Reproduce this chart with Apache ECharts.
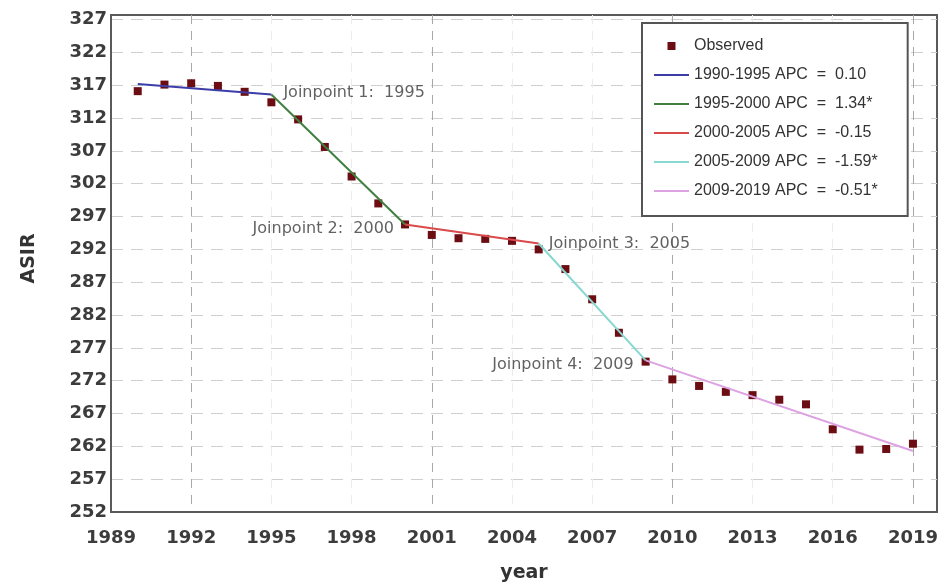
<!DOCTYPE html>
<html>
<head>
<meta charset="utf-8">
<script src="https://cdn.jsdelivr.net/npm/echarts@6/dist/echarts.min.js"></script>
<style>
html,body{margin:0;padding:0;background:#fff;}
#c{width:939px;height:585px;}
</style>
</head>
<body>
<div id="c"></div>
<script>
// ---- data ----
const years = [1990, 1991, 1992, 1993, 1994, 1995, 1996, 1997, 1998, 1999,
               2000, 2001, 2002, 2003, 2004, 2005, 2006, 2007, 2008, 2009,
               2010, 2011, 2012, 2013, 2014, 2015, 2016, 2017, 2018, 2019];
const observed = [316.1, 317.1, 317.3, 316.9, 316.0, 314.4, 311.8, 307.6, 303.1, 299.0,
                  295.8, 294.2, 293.7, 293.6, 293.3, 292.0, 289.0, 284.4, 279.3, 274.9,
                  272.2, 271.2, 270.3, 269.8, 269.1, 268.4, 264.6, 261.5, 261.6, 262.4];
// fitted joinpoint model breakpoints
const segYears = [1990, 1995, 2000, 2005, 2009, 2019];
const segValues = [317.2, 315.6, 295.8, 292.9, 275.1, 261.3];
const segNames = ['1990-1995 APC  =  0.10', '1995-2000 APC  =  1.34*', '2000-2005 APC  =  -0.15',
                  '2005-2009 APC  =  -1.59*', '2009-2019 APC  =  -0.51*'];
const jpLabels = ['Joinpoint 1:  1995', 'Joinpoint 2:  2000', 'Joinpoint 3:  2005', 'Joinpoint 4:  2009'];
const yTicks = [252, 257, 262, 267, 272, 277, 282, 287, 292, 297, 302, 307, 312, 317, 322, 327];
const xTicks = [1989, 1992, 1995, 1998, 2001, 2004, 2007, 2010, 2013, 2016, 2019];

// ---- styles ----
const segColors = ['#3d3daa', '#3f7f3f', '#d94a4a', '#86d8d0', '#dda2e2'];
const jpSide = ['right', 'left', 'right', 'left'];
const jpOffset = [[0, -2], [0, 4], [0, 0], [0, 5]];
const jpDist = [12, 11, 10, 12];

const chart = echarts.init(document.getElementById('c'), null, {renderer: 'canvas'});

const series = [];
series.push({
  name: 'Observed',
  type: 'line',
  data: years.map((y, i) => [y, observed[i]]),
  symbol: 'rect',
  symbolSize: 8,
  showSymbol: true,
  lineStyle: {width: 0, opacity: 0},
  itemStyle: {color: '#6b0d12'},
  z: 2,
  silent: true
});
for (let i = 0; i < segNames.length; i++) {
  series.push({
    name: segNames[i],
    type: 'line',
    data: [[segYears[i], segValues[i]], [segYears[i + 1], segValues[i + 1]]],
    symbol: 'none',
    lineStyle: {width: 2, color: segColors[i]},
    itemStyle: {color: segColors[i]},
    z: 3,
    silent: true
  });
}
series.push({
  name: 'joinpoints',
  type: 'scatter',
  symbolSize: 0,
  silent: true,
  z: 4,
  data: jpLabels.map((t, i) => ({
    value: [segYears[i + 1], segValues[i + 1]],
    label: {
      show: true,
      formatter: t,
      position: jpSide[i],
      distance: jpDist[i],
      offset: jpOffset[i],
      fontFamily: 'DejaVu Sans',
      fontSize: 16,
      color: '#3a3a3a'
    }
  }))
});

const option = {
  animation: false,
  backgroundColor: '#fff',
  grid: {left: 111, right: 2, top: 15, bottom: 73, show: true, borderColor: '#5a5a5a', borderWidth: 2,
         outerBoundsMode: 'none', containLabel: false},
  legend: {
    orient: 'vertical',
    left: 642,
    top: 23,
    itemWidth: 35,
    itemHeight: 10,
    itemGap: 11,
    padding: [14, 30, 16, 11],
    backgroundColor: '#fff',
    borderColor: '#555',
    borderWidth: 2,
    textStyle: {fontFamily: 'Liberation Sans', fontSize: 16, color: '#333', lineHeight: 18},
    data: ['Observed'].concat(segNames.map(n => ({name: n, itemStyle: {opacity: 0}})))
  },
  xAxis: {
    type: 'value',
    min: xTicks[0],
    max: 2019.9,
    interval: 3,
    name: 'year',
    nameLocation: 'middle',
    nameGap: 52,
    nameTextStyle: {fontFamily: 'DejaVu Sans', fontWeight: 'bold', fontSize: 19, color: '#333'},
    axisLine: {show: true, lineStyle: {color: '#5a5a5a', width: 2}},
    axisTick: {show: false},
    axisLabel: {
      margin: 17,
      fontFamily: 'DejaVu Sans', fontWeight: 'bold', fontSize: 18, color: '#3c3c3c',
      formatter: v => xTicks.indexOf(Math.round(v * 100) / 100) >= 0 ? String(v) : ''
    },
    splitLine: {show: true, showMaxLine: false, lineStyle: {color: ['#ececec', '#a8a8a8', '#ececec'], type: [9, 7], width: 1}}
  },
  yAxis: {
    type: 'value',
    min: yTicks[0],
    max: 327.7,
    interval: 5,
    name: 'ASIR',
    nameLocation: 'middle',
    nameGap: 72,
    nameTextStyle: {fontFamily: 'DejaVu Sans', fontWeight: 'bold', fontSize: 19, color: '#333', padding: [0, 0, 0, 10]},
    axisLine: {show: true, lineStyle: {color: '#5a5a5a', width: 2}},
    axisTick: {show: false},
    axisLabel: {
      margin: 4,
      fontFamily: 'DejaVu Sans', fontWeight: 'bold', fontSize: 18, color: '#3c3c3c',
      formatter: v => yTicks.indexOf(Math.round(v * 100) / 100) >= 0 ? String(v) : ''
    },
    splitLine: {show: true, showMaxLine: false, lineStyle: {color: '#cfcfcf', type: [12, 8], width: 1}}
  },
  series: series
};
chart.setOption(option);
</script>
</body>
</html>
